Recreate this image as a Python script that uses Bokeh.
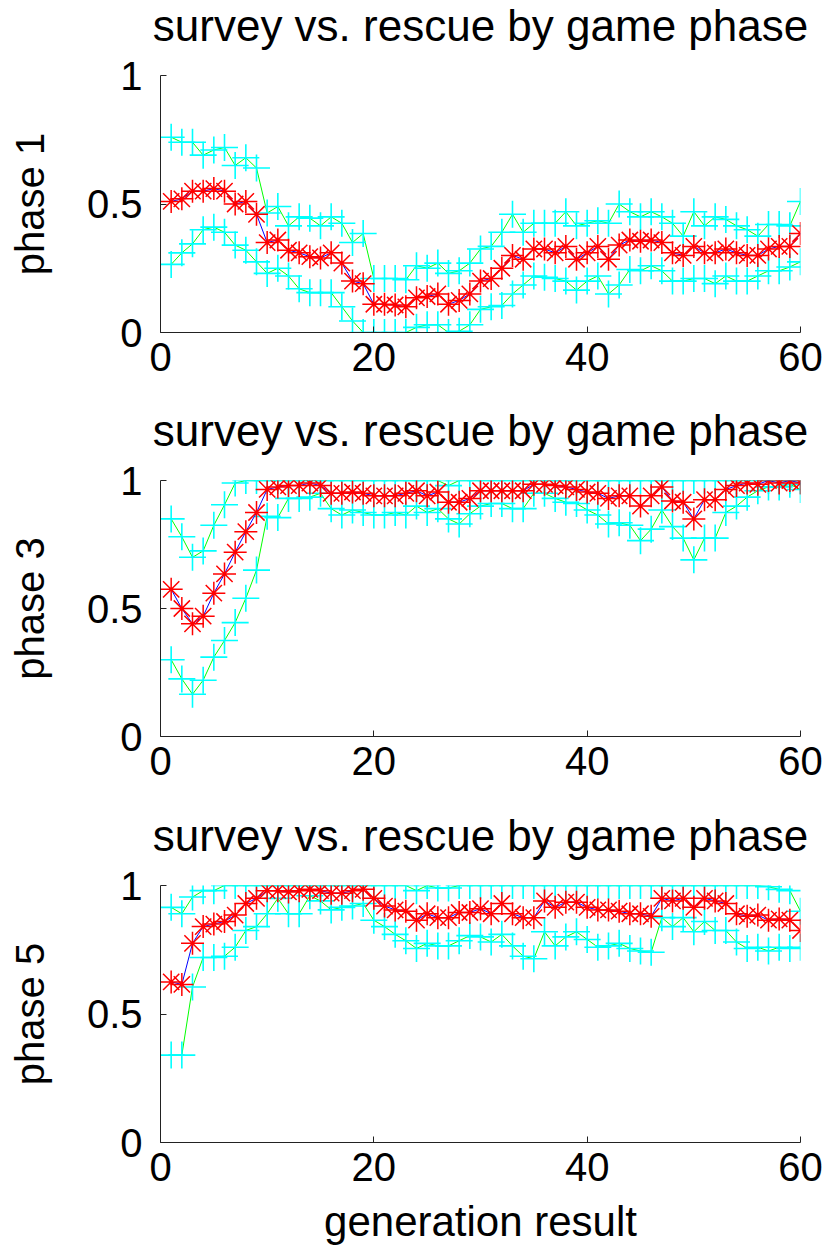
from bokeh.plotting import figure
from bokeh.layouts import column
from bokeh.models import FixedTicker, Range1d, ColumnDataSource
from bokeh.embed import file_html
from bokeh.resources import INLINE

generation = list(range(1, 61))

phase1_mean = [0.51, 0.52, 0.55, 0.55, 0.56, 0.55, 0.50, 0.51, 0.46, 0.35,
               0.36, 0.32, 0.31, 0.295, 0.29, 0.31, 0.27, 0.20, 0.19, 0.11,
               0.11, 0.107, 0.10, 0.135, 0.14, 0.15, 0.11, 0.125, 0.15, 0.20,
               0.21, 0.25, 0.30, 0.285, 0.325, 0.325, 0.31, 0.335, 0.285, 0.31,
               0.335, 0.285, 0.34, 0.36, 0.355, 0.36, 0.35, 0.31, 0.30, 0.335,
               0.31, 0.31, 0.325, 0.31, 0.30, 0.30, 0.325, 0.335, 0.335, 0.385]
phase1_upper = [0.76, 0.74, 0.74, 0.69, 0.71, 0.72, 0.65, 0.68, 0.64, 0.465,
                0.49, 0.415, 0.45, 0.445, 0.415, 0.45, 0.425, 0.35, 0.385, 0.21,
                0.21, 0.21, 0.205, 0.26, 0.25, 0.27, 0.23, 0.24, 0.27, 0.325,
                0.335, 0.39, 0.46, 0.39, 0.425, 0.425, 0.425, 0.47, 0.415, 0.425,
                0.435, 0.425, 0.50, 0.47, 0.45, 0.47, 0.45, 0.425, 0.375, 0.47,
                0.415, 0.45, 0.44, 0.415, 0.40, 0.375, 0.42, 0.42, 0.415, 0.51]
phase1_lower = [0.265, 0.31, 0.345, 0.40, 0.41, 0.39, 0.34, 0.32, 0.275, 0.23,
                0.25, 0.22, 0.17, 0.155, 0.155, 0.155, 0.10, 0.045, 0.0, 0.0,
                0.0, 0.0, 0.0, 0.02, 0.03, 0.03, 0.0, 0.005, 0.03, 0.09,
                0.10, 0.105, 0.15, 0.185, 0.22, 0.215, 0.21, 0.20, 0.165, 0.20,
                0.22, 0.15, 0.185, 0.245, 0.24, 0.26, 0.24, 0.20, 0.20, 0.21,
                0.21, 0.19, 0.22, 0.20, 0.20, 0.22, 0.24, 0.24, 0.255, 0.275]

phase3_mean = [0.575, 0.50, 0.44, 0.47, 0.56, 0.635, 0.72, 0.80, 0.875, 0.965,
               0.975, 0.98, 0.98, 0.99, 0.98, 0.95, 0.95, 0.955, 0.95, 0.94,
               0.94, 0.94, 0.95, 0.96, 0.94, 0.955, 0.915, 0.915, 0.93, 0.96,
               0.96, 0.96, 0.96, 0.96, 0.985, 0.985, 0.98, 0.975, 0.965, 0.955,
               0.95, 0.93, 0.94, 0.94, 0.90, 0.94, 0.975, 0.92, 0.915, 0.85,
               0.925, 0.925, 0.965, 0.98, 0.99, 0.985, 1.0, 0.99, 1.0, 0.99]
phase3_upper = [0.85, 0.78, 0.70, 0.725, 0.825, 0.905, 0.99, 1.0, 1.0, 1.0,
                1.0, 1.0, 1.0, 1.0, 1.0, 1.0, 1.0, 1.0, 1.0, 1.0,
                1.0, 1.0, 1.0, 1.0, 1.0, 1.0, 0.98, 1.0, 1.0, 1.0,
                1.0, 1.0, 1.0, 1.0, 1.0, 1.0, 1.0, 1.0, 1.0, 1.0,
                1.0, 1.0, 1.0, 1.0, 1.0, 1.0, 1.0, 1.0, 1.0, 1.0,
                1.0, 1.0, 1.0, 1.0, 1.0, 1.0, 1.0, 1.0, 1.0, 1.0]
phase3_lower = [0.30, 0.225, 0.165, 0.22, 0.31, 0.375, 0.445, 0.54, 0.65, 0.86,
                0.855, 0.93, 0.93, 0.935, 0.95, 0.89, 0.865, 0.885, 0.875, 0.865,
                0.865, 0.875, 0.865, 0.90, 0.875, 0.89, 0.85, 0.83, 0.87, 0.90,
                0.91, 0.91, 0.89, 0.89, 0.95, 0.95, 0.93, 0.915, 0.91, 0.885,
                0.865, 0.83, 0.835, 0.825, 0.765, 0.81, 0.885, 0.82, 0.775, 0.69,
                0.775, 0.775, 0.875, 0.90, 0.935, 0.96, 0.975, 0.975, 0.985, 0.965]

phase5_mean = [0.625, 0.615, 0.775, 0.84, 0.85, 0.86, 0.885, 0.93, 0.95, 0.98,
               0.98, 0.975, 0.98, 0.985, 0.98, 0.97, 0.97, 0.98, 0.985, 0.95,
               0.92, 0.905, 0.90, 0.865, 0.89, 0.875, 0.875, 0.895, 0.895, 0.91,
               0.89, 0.93, 0.89, 0.875, 0.875, 0.94, 0.915, 0.935, 0.935, 0.915,
               0.905, 0.905, 0.90, 0.89, 0.89, 0.88, 0.95, 0.94, 0.95, 0.915,
               0.95, 0.94, 0.93, 0.89, 0.88, 0.885, 0.865, 0.87, 0.865, 0.825]
phase5_upper = [0.915, 0.89, 0.955, 0.98, 0.98, 1.0, 1.0, 1.0, 1.0, 1.0,
                1.0, 1.0, 1.0, 1.0, 1.0, 1.0, 1.0, 1.0, 1.0, 1.0,
                1.0, 1.0, 1.0, 0.98, 1.0, 0.99, 0.99, 1.0, 1.0, 1.0,
                1.0, 1.0, 1.0, 1.0, 1.0, 1.0, 1.0, 1.0, 1.0, 1.0,
                1.0, 1.0, 1.0, 1.0, 1.0, 1.0, 1.0, 1.0, 1.0, 1.0,
                1.0, 1.0, 1.0, 1.0, 1.0, 1.0, 0.995, 0.985, 0.98, 0.90]
phase5_lower = [0.34, 0.34, 0.605, 0.72, 0.72, 0.725, 0.76, 0.825, 0.84, 0.89,
                0.95, 0.89, 0.89, 0.96, 0.94, 0.905, 0.915, 0.92, 0.93, 0.865,
                0.84, 0.81, 0.785, 0.755, 0.775, 0.765, 0.765, 0.785, 0.805, 0.80,
                0.78, 0.81, 0.765, 0.725, 0.715, 0.82, 0.765, 0.80, 0.82, 0.79,
                0.76, 0.765, 0.775, 0.755, 0.745, 0.74, 0.875, 0.84, 0.875, 0.82,
                0.86, 0.825, 0.825, 0.78, 0.755, 0.76, 0.745, 0.76, 0.755, 0.76]

title_text = "survey vs. rescue by game phase"
phase_labels = ["phase 1", "phase 3", "phase 5"]
x_label = "generation result"
x_ticks = [0, 20, 40, 60]
y_ticks = [0, 0.5, 1]
y_tick_labels = ["0", "0.5", "1"]

FONT = "Liberation Sans"
STRIP_H = 51


def make_title_strip():
    t = figure(width=827, height=STRIP_H, output_backend="svg", toolbar_location=None,
               x_axis_location=None, y_axis_location=None,
               min_border_left=160, min_border_right=27, min_border_top=0,
               min_border_bottom=0, title=title_text)
    t.outline_line_color = None
    t.grid.visible = False
    t.background_fill_color = "white"
    t.border_fill_color = "white"
    t.title.align = "center"
    t.title.vertical_align = "top"
    t.title.text_font = FONT
    t.title.text_font_size = "44px"
    t.title.text_font_style = "normal"
    t.title.text_color = "black"
    t.title.standoff = 0
    return t


def make_panel(mean, upper, lower, ylabel, height, bottom, show_xlabel):
    p = figure(width=827, height=height, output_backend="svg", toolbar_location=None,
               x_range=Range1d(0, 60), y_range=Range1d(0, 1),
               min_border_left=160, min_border_right=27, min_border_top=75 - STRIP_H,
               min_border_bottom=bottom)
    p.outline_line_color = None
    p.grid.visible = False
    p.background_fill_color = "white"
    p.border_fill_color = "white"

    p.xaxis.ticker = FixedTicker(ticks=x_ticks)
    p.yaxis.ticker = FixedTicker(ticks=y_ticks)
    p.yaxis.major_label_overrides = dict(zip(y_ticks, y_tick_labels))
    for ax in (p.xaxis, p.yaxis):
        ax.major_label_text_font = FONT
        ax.major_label_text_font_size = "40px"
        ax.major_label_text_color = "black"
        ax.major_tick_in = 6
        ax.major_tick_out = 0
        ax.minor_tick_line_color = None
        ax.axis_line_color = "#222222"
        ax.major_tick_line_color = "#222222"
        ax.axis_label_text_font = FONT
        ax.axis_label_text_font_style = "normal"
        ax.axis_label_text_color = "black"
    p.yaxis.major_label_standoff = 18
    p.xaxis.major_label_standoff = 10
    p.yaxis.axis_label = ylabel
    p.yaxis.axis_label_text_font_size = "40px"
    p.yaxis.axis_label_standoff = 32
    if show_xlabel:
        p.xaxis.axis_label = x_label
        p.xaxis.axis_label_text_font_size = "42px"
        p.xaxis.axis_label_standoff = 14

    src = ColumnDataSource(dict(x=generation, mean=mean, upper=upper, lower=lower))
    p.line("x", "upper", source=src, line_color="#00FF00", line_width=1)
    p.line("x", "lower", source=src, line_color="#00FF00", line_width=1)
    p.scatter("x", "upper", source=src, marker="cross", size=27,
              line_color="#00FFFF", line_width=1.6)
    p.scatter("x", "lower", source=src, marker="cross", size=27,
              line_color="#00FFFF", line_width=1.6)
    p.line("x", "mean", source=src, line_color="#0000FF", line_width=1)
    p.scatter("x", "mean", source=src, marker="asterisk", size=23,
              line_color="#FF0000", line_width=1.5)
    return p


p1 = make_panel(phase1_mean, phase1_upper, phase1_lower, phase_labels[0], 405 - STRIP_H, 73, False)
p2 = make_panel(phase3_mean, phase3_upper, phase3_lower, phase_labels[1], 405 - STRIP_H, 74, False)
p3 = make_panel(phase5_mean, phase5_upper, phase5_lower, phase_labels[2], 442 - STRIP_H, 110, True)

layout = column(make_title_strip(), p1, make_title_strip(), p2, make_title_strip(), p3, spacing=0)
open("out.html", "w").write(file_html(layout, INLINE))
